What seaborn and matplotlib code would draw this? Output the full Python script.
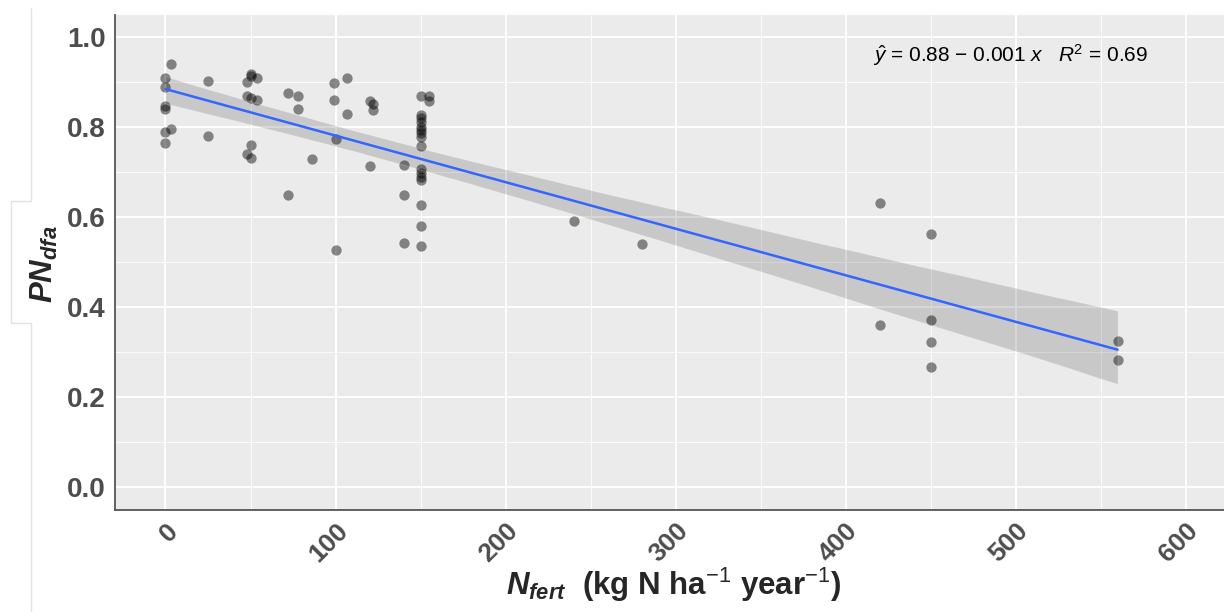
import matplotlib
matplotlib.use("Agg")
import matplotlib.pyplot as plt
from matplotlib.lines import Line2D
from matplotlib.ticker import MultipleLocator
import seaborn as sns
import pandas as pd

# data
n_fert = [0, 0, 0, 0, 0, 0, 3, 3,
          25, 25,
          48, 50, 50, 54, 48, 50, 54, 50, 48, 50,
          72, 72, 78, 78, 86,
          99, 99, 100, 100, 107, 107,
          120, 122, 122, 120,
          140, 140, 140,
          150, 150, 150, 150, 150, 150, 150, 150, 150, 150, 150, 150, 150, 150, 150, 150,
          155, 155,
          240, 280,
          420, 420, 450, 450, 450, 450, 560, 560]
pn_dfa = [0.910, 0.890, 0.847, 0.840, 0.790, 0.765, 0.940, 0.797,
          0.903, 0.781,
          0.901, 0.918, 0.914, 0.909, 0.870, 0.866, 0.860, 0.760, 0.740, 0.731,
          0.877, 0.650, 0.870, 0.840, 0.730,
          0.899, 0.860, 0.775, 0.528, 0.910, 0.830,
          0.858, 0.851, 0.838, 0.714,
          0.716, 0.650, 0.542,
          0.870, 0.827, 0.820, 0.812, 0.801, 0.794, 0.787, 0.778, 0.759,
          0.707, 0.699, 0.690, 0.684, 0.627, 0.581, 0.537,
          0.870, 0.859,
          0.592, 0.541,
          0.632, 0.361, 0.564, 0.372, 0.324, 0.267, 0.326, 0.284]
x_ticks = [0, 100, 200, 300, 400, 500, 600]
y_ticks = [0.0, 0.2, 0.4, 0.6, 0.8, 1.0]
eq_text = r"$\hat{\mathsf{y}}$ = 0.88 − 0.001 $\mathsf{x}$   $\mathsf{R}^2$ = 0.69"

df = pd.DataFrame({"N_fert": n_fert, "PN_dfa": pn_dfa})

sns.set_style("white")
plt.rcParams["font.family"] = ["Liberation Sans", "DejaVu Sans"]
plt.rcParams["mathtext.fontset"] = "custom"
plt.rcParams["mathtext.it"] = "Liberation Sans:italic:bold"
plt.rcParams["mathtext.bf"] = "Liberation Sans:bold"
plt.rcParams["mathtext.rm"] = "Liberation Sans"
plt.rcParams["mathtext.sf"] = "Liberation Sans:italic"

fig = plt.figure(figsize=(12.24, 6.12), dpi=100)
ax = fig.add_axes([115 / 1224, 1 - 509.8 / 612, 1 - 115 / 1224, (509.8 - 14.8) / 612])
ax.set_facecolor("#EBEBEB")

sns.regplot(data=df, x="N_fert", y="PN_dfa", ax=ax, color="black", ci=95,
            n_boot=2000, seed=7,
            scatter_kws={"alpha": 0.45, "s": 55, "linewidths": 0},
            line_kws={"linewidth": 1.8})
ax.lines[0].set_color("#3366FF")

ax.set_xlim(-29.7, 622.6)
ax.set_ylim(-0.05, 1.05)
ax.set_xticks(x_ticks)
ax.set_yticks(y_ticks)
ax.set_yticklabels([f"{v:.1f}" for v in y_ticks])
ax.xaxis.set_minor_locator(MultipleLocator(50))
ax.yaxis.set_minor_locator(MultipleLocator(0.1))
ax.grid(which="major", color="white", linewidth=1.3)
ax.grid(which="minor", color="white", linewidth=0.6)
ax.set_axisbelow(True)

for s in ["top", "right"]:
    ax.spines[s].set_visible(False)
for s in ["left", "bottom"]:
    ax.spines[s].set_color("#555555")
    ax.spines[s].set_linewidth(1.3)

ax.tick_params(which="major", length=3, width=1, color="#333333", labelcolor="#4D4D4D")
ax.tick_params(which="minor", length=0)
for lab in ax.get_yticklabels():
    lab.set_fontsize(20)
    lab.set_fontweight("bold")
for lab in ax.get_xticklabels():
    lab.set_fontsize(19)
    lab.set_fontweight("bold")
    lab.set_rotation(45)
    lab.set_ha("right")
    lab.set_va("top")
    lab.set_rotation_mode("anchor")

ax.set_xlabel("")
ax.set_ylabel("")

ax.text(497, 0.96, eq_text, ha="center", va="center", fontsize=15, color="black")

fig.text(674 / 1224, 1 - 585 / 612,
         r"$N_{fert}$  (kg N ha$^{-1}$ year$^{-1}$)",
         ha="center", va="center", fontsize=22.5, fontweight="bold")
fig.text(44 / 1224, 1 - 264 / 612, r"$PN_{dfa}$", rotation=90,
         ha="center", va="center", fontsize=22.5, fontweight="bold")

# faint frame line around the y label, as in the source image
fx = [30.7, 30.7, 10.7, 10.7, 30.7, 30.7]
fy = [8, 201, 201, 323, 323, 612]
fig.add_artist(Line2D([v / 1224 for v in fx], [1 - v / 612 for v in fy],
                      transform=fig.transFigure, color="#E2E2E2", linewidth=1))

fig.savefig("out.png", dpi=100)
